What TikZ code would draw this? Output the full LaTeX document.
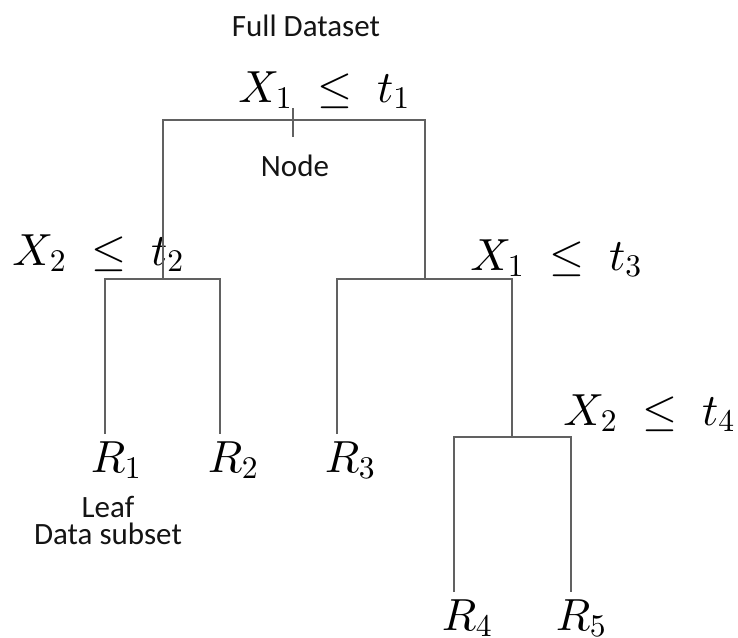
\RequirePackage{fix-cm}
\documentclass[tikz,border=0pt]{standalone}
\usepackage{fontspec}
\DeclareFontShape{OML}{cmm}{m}{it}{<->cmmi10}{\skewchar\font=127}
\DeclareFontShape{OMS}{cmsy}{m}{n}{<->cmsy10}{\skewchar\font=48}
\DeclareFontShape{OT1}{cmr}{m}{n}{<->cmr10}{}
\newfontfamily\calib{Carlito}
\tikzset{
  treeline/.style={draw=black!62, line width=2pt},
  splitlab/.style={inner sep=0pt, anchor=base, font=\fontsize{45}{50}\selectfont},
  leaf/.style={inner sep=7pt, anchor=base, font=\fontsize{45}{50}\selectfont},
  note/.style={inner sep=0pt, anchor=base, text height=20pt, text depth=5pt, font=\calib\fontsize{31}{27}\selectfont, text=black!92},
}
\begin{document}
\begin{tikzpicture}[x=1pt,y=-1pt]
\useasboundingbox (0,0) rectangle (738,637);
% split points / bar ends
\coordinate (b1l) at (163,120);
\coordinate (b1r) at (425,120);
\coordinate (s2)  at (163,279);
\coordinate (a1)  at (105,279);
\coordinate (a2)  at (220,279);
\coordinate (s3)  at (425,279);
\coordinate (a3)  at (337,279);
\coordinate (a4)  at (512,279);
\coordinate (s4)  at (512,437);
\coordinate (a5)  at (454,437);
\coordinate (a6)  at (571,437);
\coordinate (tk1) at (293,108);
\coordinate (tk2) at (293,137);
% labels
\node[note] (full) at (306,36) {Full Dataset};
\node[note] (nodetxt) at (295,176) {Node};
\node[note] (leaftxt) at (108,517) {Leaf};
\node[note] (subtxt) at (108,544) {Data subset};
\node[splitlab] (l1) at (324,102) {$X_1\;\leq\;t_1$};
\node[splitlab] (l2) at (98,265) {$X_2\;\leq\;t_2$};
\node[splitlab] (l3) at (556,270) {$X_1\;\leq\;t_3$};
\node[splitlab] (l4) at (649,425) {$X_2\;\leq\;t_4$};
% leaves
\node[leaf] (r1) at (116,472) {$R_1$};
\node[leaf] (r2) at (233,472) {$R_2$};
\node[leaf] (r3) at (350,472) {$R_3$};
\node[leaf] (r4) at (467,630) {$R_4$};
\node[leaf] (r5) at (581,630) {$R_5$};
% connectors
\draw[treeline] (s2) -- (b1l) -- (b1r) -- (s3);
\draw[treeline] (tk1) -- (tk2);
\draw[treeline] (r1.north -| a1) -- (a1) -- (a2) -- (r2.north -| a2);
\draw[treeline] (r3.north -| a3) -- (a3) -- (a4) -- (s4);
\draw[treeline] (r4.north -| a5) -- (a5) -- (a6) -- (r5.north -| a6);
\end{tikzpicture}
\end{document}
